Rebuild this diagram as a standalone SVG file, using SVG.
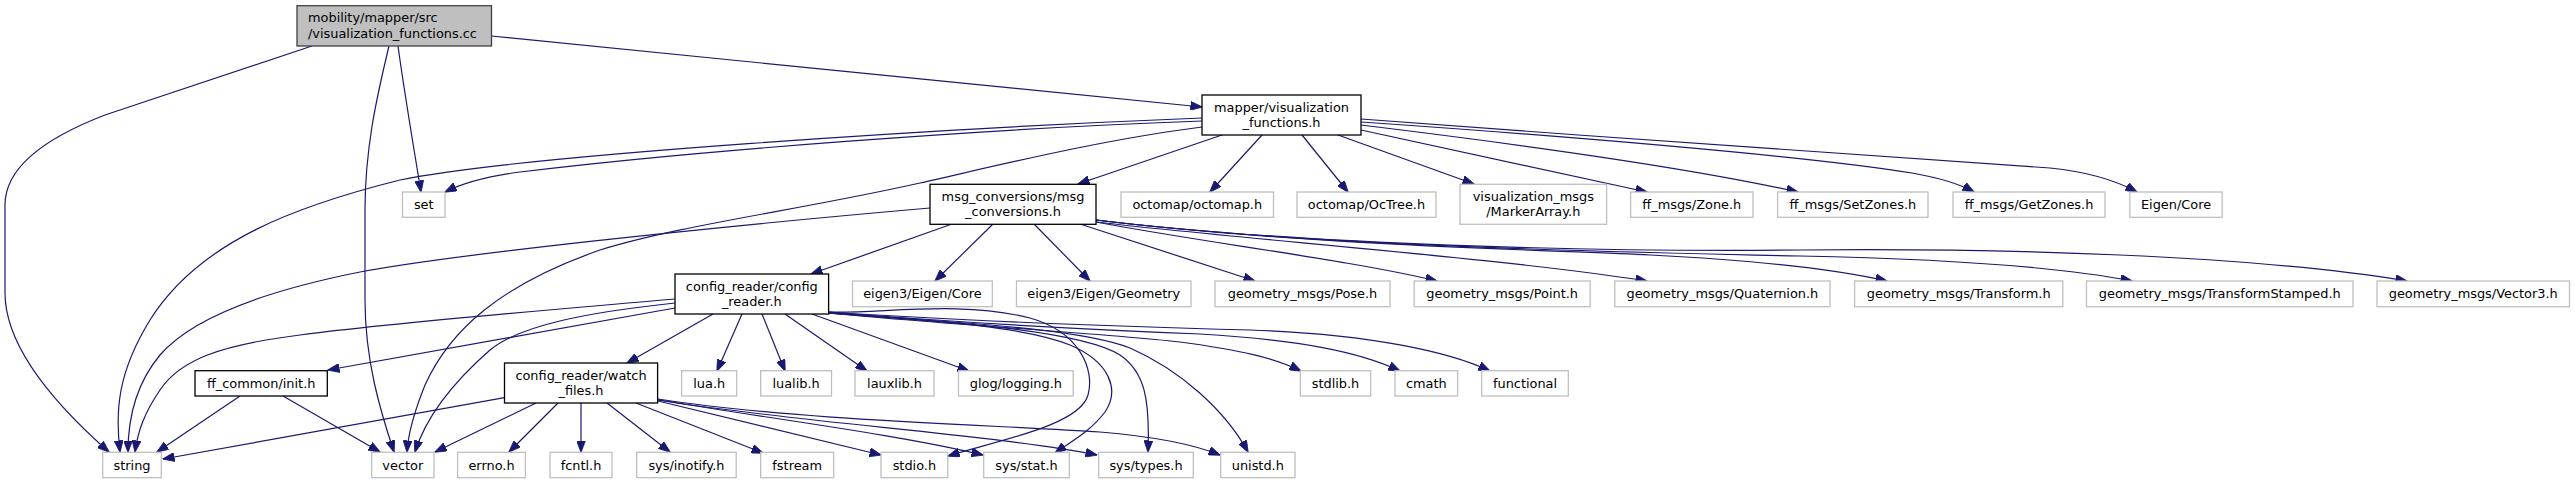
<svg xmlns="http://www.w3.org/2000/svg" width="2575" height="484" viewBox="0 0 2575 484">
<style>
.bg{fill:#ffffff}
.x rect{fill:#ffffff;stroke:#bfbfbf;stroke-width:1.3}
.d rect{fill:#ffffff;stroke:#000000;stroke-width:1.3}
.m rect{fill:#bfbfbf;stroke:#404040;stroke-width:1.3}
text{font-family:"DejaVu Sans","Liberation Sans",sans-serif;font-size:12.9px;fill:#000000;text-anchor:middle}
.m text{text-anchor:start}
#edges path{fill:none;stroke:#191970;stroke-width:1.2;marker-end:url(#ah)}
</style>
<defs>
<marker id="ah" viewBox="0 0 12 9" refX="11.5" refY="4.5" markerWidth="12" markerHeight="9" orient="auto" markerUnits="userSpaceOnUse"><path d="M0,0L12,4.5L0,9z" fill="#191970" stroke="#191970" stroke-width="0.8"/></marker>
</defs>
<rect class="bg" x="0" y="0" width="2575" height="484"/>
<g id="edges">
<!-- main -->
<path d="M312,46 L105,115 C40,140 5,170 5,205 L5,293 C5,345 50,400 109,452"/>
<path d="M389,46 C376,100 365,150 365,210 L365,300 C365,360 380,410 394,452"/>
<path d="M398,46 C404,90 414,150 421,192"/>
<path d="M491.5,36 L1202,107"/>
<!-- mapper -->
<path d="M1202,118 C950,128 520,155 400,180 C300,205 200,240 150,320 C118,372 115,410 120,452"/>
<path d="M1202,121 C1000,128 700,150 520,172 C490,176 465,182 445,192"/>
<path d="M1202,127 C1100,140 1000,165 920,183 C800,210 680,225 600,250 C500,285 450,330 425,385 C413,415 408,435 407,452"/>
<path d="M1222,135 L1078,184"/>
<path d="M1262,135 L1210,192"/>
<path d="M1302,135 L1348,192"/>
<path d="M1338,135 L1474,184"/>
<path d="M1361,130 L1647,192"/>
<path d="M1361,125 C1550,148 1700,170 1798,192"/>
<path d="M1361,122 C1550,135 1800,155 1912,173 C1940,178 1960,184 1974,192"/>
<path d="M1361,119 C1600,137 1900,158 2050,168 C2090,172 2115,180 2137,192"/>
<!-- msg_conversions -->
<path d="M930,208 C700,228 450,255 360,272 C260,292 190,320 160,355 C135,385 128,420 128,452"/>
<path d="M952,224 L811,274"/>
<path d="M993,224 L935,281"/>
<path d="M1034,224 L1090,281"/>
<path d="M1080,224 L1255,281"/>
<path d="M1096,222 C1200,242 1350,260 1437,281"/>
<path d="M1096,222 C1250,240 1500,258 1647,281"/>
<path d="M1096,220 C1300,245 1550,250 1650,255 C1750,260 1830,268 1887,281"/>
<path d="M1096,220 C1300,245 1600,252 1800,256 C1950,259 2060,267 2132,281"/>
<path d="M1096,220 C1300,245 1600,252 1800,250 C2000,248 2250,255 2407,281"/>
<!-- config_reader -->
<path d="M675,299 C550,310 400,322 300,335 C220,345 180,360 160,390 C145,412 138,430 135,452"/>
<path d="M675,303 C590,312 520,325 490,350 C450,385 425,420 415,452"/>
<path d="M675,308 L328,370"/>
<path d="M713,314 L627,363"/>
<path d="M742,314 L717,371"/>
<path d="M762,314 L785,371"/>
<path d="M785,314 L867,371"/>
<path d="M812,314 L969,371"/>
<path d="M828,312 C880,314 960,300 1030,318 C1080,332 1095,370 1088,395 C1080,425 1000,440 948,456"/>
<path d="M828,313 C920,320 1020,325 1070,345 C1110,362 1120,390 1105,412 C1090,432 1070,442 1055,453"/>
<path d="M828,313 C950,322 1080,330 1120,355 C1145,372 1150,400 1148,452"/>
<path d="M828,313 C950,322 1080,328 1130,348 C1180,370 1225,410 1248,452"/>
<path d="M828,313 C950,325 1100,333 1180,342 C1240,350 1275,358 1301,371"/>
<path d="M828,312 C950,322 1100,330 1200,334 C1300,340 1360,352 1400,371"/>
<path d="M828,312 C950,320 1100,326 1250,330 C1370,334 1450,352 1490,371"/>
<!-- ff_common/init.h -->
<path d="M240,396 L157,452"/>
<path d="M283,396 L380,452"/>
<!-- watch_files -->
<path d="M504.5,397.7 L163,459"/>
<path d="M536,403 L435,452"/>
<path d="M558,403 L509,452"/>
<path d="M581,403 L581,452"/>
<path d="M607,403 L670,452"/>
<path d="M636,403 L763,453"/>
<path d="M658,401 L881,455"/>
<path d="M658,400 C780,420 900,435 983,455"/>
<path d="M658,400 C800,423 1000,435 1097,455"/>
<path d="M658,399 C800,421 1000,425 1100,432 C1160,437 1195,445 1220,455"/>
</g>
<g id="n_main" class="m"><rect x="297" y="5.7" width="194.5" height="40.3"/><text x="308" y="22">mobility/mapper/src</text><text x="308" y="37.5">/visualization_functions.cc</text></g>
<g id="n_mapper" class="d"><rect x="1202" y="95" width="159" height="40"/><text x="1281.5" y="111.5">mapper/visualization</text><text x="1281.5" y="126.5">_functions.h</text></g>
<g id="n_set" class="x"><rect x="402.5" y="192" width="42.5" height="25.3"/><text x="423.75" y="209">set</text></g>
<g id="n_msgconv" class="d"><rect x="930" y="184.3" width="166" height="40"/><text x="1013" y="201">msg_conversions/msg</text><text x="1013" y="216">_conversions.h</text></g>
<g id="n_octomap" class="x"><rect x="1121" y="192" width="152.5" height="25.3"/><text x="1197.25" y="209">octomap/octomap.h</text></g>
<g id="n_octree" class="x"><rect x="1297" y="192" width="139" height="25.3"/><text x="1366.5" y="209">octomap/OcTree.h</text></g>
<g id="n_marker" class="x"><rect x="1460" y="184.3" width="146.6" height="40"/><text x="1533.3" y="201">visualization_msgs</text><text x="1533.3" y="216">/MarkerArray.h</text></g>
<g id="n_zone" class="x"><rect x="1630.6" y="192" width="122.4" height="25.3"/><text x="1691.8" y="209">ff_msgs/Zone.h</text></g>
<g id="n_setzones" class="x"><rect x="1777.6" y="192" width="150.4" height="25.3"/><text x="1852.8" y="209">ff_msgs/SetZones.h</text></g>
<g id="n_getzones" class="x"><rect x="1953" y="192" width="152" height="25.3"/><text x="2029" y="209">ff_msgs/GetZones.h</text></g>
<g id="n_eigencore" class="x"><rect x="2129.8" y="192" width="92.4" height="25.3"/><text x="2176" y="209">Eigen/Core</text></g>
<g id="n_config" class="d"><rect x="675" y="274" width="153.6" height="40"/><text x="751.8" y="290.5">config_reader/config</text><text x="751.8" y="305.5">_reader.h</text></g>
<g id="n_e3core" class="x"><rect x="852.5" y="281" width="139.8" height="25.7"/><text x="922.4" y="298.3">eigen3/Eigen/Core</text></g>
<g id="n_e3geom" class="x"><rect x="1016.5" y="281" width="174.5" height="25.7"/><text x="1103.75" y="298.3">eigen3/Eigen/Geometry</text></g>
<g id="n_pose" class="x"><rect x="1215" y="281" width="175" height="25.7"/><text x="1302.5" y="298.3">geometry_msgs/Pose.h</text></g>
<g id="n_point" class="x"><rect x="1414.2" y="281" width="176" height="25.7"/><text x="1502.2" y="298.3">geometry_msgs/Point.h</text></g>
<g id="n_quat" class="x"><rect x="1614.8" y="281" width="215.2" height="25.7"/><text x="1722.4" y="298.3">geometry_msgs/Quaternion.h</text></g>
<g id="n_transform" class="x"><rect x="1854.6" y="281" width="208.2" height="25.7"/><text x="1958.7" y="298.3">geometry_msgs/Transform.h</text></g>
<g id="n_tstamped" class="x"><rect x="2086.5" y="281" width="266.5" height="25.7"/><text x="2219.75" y="298.3">geometry_msgs/TransformStamped.h</text></g>
<g id="n_vector3" class="x"><rect x="2377" y="281" width="192.5" height="25.7"/><text x="2473.25" y="298.3">geometry_msgs/Vector3.h</text></g>
<g id="n_init" class="d"><rect x="195" y="370.7" width="132.3" height="25.3"/><text x="261.2" y="387.8">ff_common/init.h</text></g>
<g id="n_watch" class="d"><rect x="504.5" y="363" width="153.1" height="40"/><text x="581" y="379.5">config_reader/watch</text><text x="581" y="394.5">_files.h</text></g>
<g id="n_lua" class="x"><rect x="681.6" y="370.7" width="55.1" height="25.3"/><text x="709.2" y="387.8">lua.h</text></g>
<g id="n_lualib" class="x"><rect x="760.7" y="370.7" width="70.8" height="25.3"/><text x="796.1" y="387.8">lualib.h</text></g>
<g id="n_lauxlib" class="x"><rect x="855" y="370.7" width="79" height="25.3"/><text x="894.5" y="387.8">lauxlib.h</text></g>
<g id="n_glog" class="x"><rect x="958.5" y="370.7" width="114.7" height="25.3"/><text x="1015.9" y="387.8">glog/logging.h</text></g>
<g id="n_stdlib" class="x"><rect x="1300.3" y="370.7" width="70.4" height="25.3"/><text x="1335.5" y="387.8">stdlib.h</text></g>
<g id="n_cmath" class="x"><rect x="1395" y="370.7" width="62.7" height="25.3"/><text x="1426.3" y="387.8">cmath</text></g>
<g id="n_functional" class="x"><rect x="1481.7" y="370.7" width="86.6" height="25.3"/><text x="1525" y="387.8">functional</text></g>
<g id="n_string" class="x"><rect x="102.7" y="452.3" width="58.6" height="25.4"/><text x="132" y="469.5">string</text></g>
<g id="n_vector" class="x"><rect x="371.7" y="452.3" width="62.3" height="25.4"/><text x="402.8" y="469.5">vector</text></g>
<g id="n_errno" class="x"><rect x="457.6" y="452.3" width="67.8" height="25.4"/><text x="491.5" y="469.5">errno.h</text></g>
<g id="n_fcntl" class="x"><rect x="550" y="452.3" width="62" height="25.4"/><text x="581" y="469.5">fcntl.h</text></g>
<g id="n_inotify" class="x"><rect x="636.7" y="452.3" width="99.5" height="25.4"/><text x="686.4" y="469.5">sys/inotify.h</text></g>
<g id="n_fstream" class="x"><rect x="760.7" y="452.3" width="73" height="25.4"/><text x="797.2" y="469.5">fstream</text></g>
<g id="n_stdio" class="x"><rect x="881" y="452.3" width="66.8" height="25.4"/><text x="914.4" y="469.5">stdio.h</text></g>
<g id="n_stat" class="x"><rect x="983.7" y="452.3" width="85.6" height="25.4"/><text x="1026.5" y="469.5">sys/stat.h</text></g>
<g id="n_types" class="x"><rect x="1098.7" y="452.3" width="94.6" height="25.4"/><text x="1146" y="469.5">sys/types.h</text></g>
<g id="n_unistd" class="x"><rect x="1220.7" y="452.3" width="74.3" height="25.4"/><text x="1257.8" y="469.5">unistd.h</text></g>
</svg>
